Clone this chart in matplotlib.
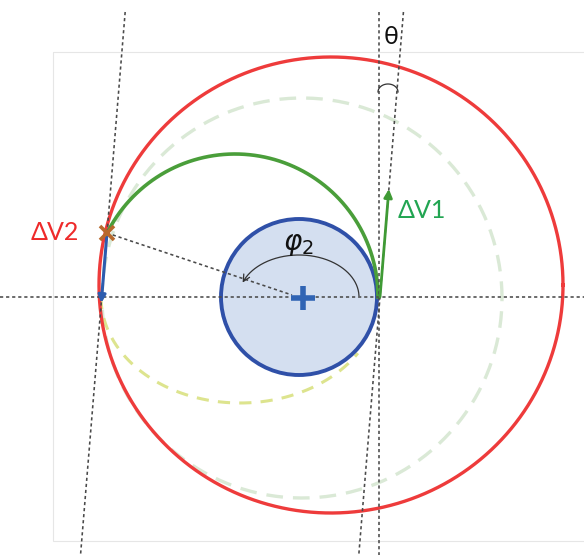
import numpy as np
import matplotlib
matplotlib.use("Agg")
import matplotlib.pyplot as plt
from matplotlib.patches import Circle, Rectangle

# Geometry of the manoeuvre (drawing units, y grows downward)
planet_center = (299, 297)
planet_radius = 78
target_center = (331, 285)
target_radii = (232, 228)
parking_center = (302, 298)
parking_radius = 200
transfer_center = (235, 297)
transfer_radius = 143
transfer_span = (0, 153.5)          # degrees, upper transfer arc (solid)
lower_center = (240, 297)
lower_radii = (139, 106)
lower_span = (180, 328)             # degrees, lower transfer arc (dashed)
burn1_point = (380, 297)
burn2_point = (107, 233)
theta_deg = 4.7                     # tilt of the thrust direction
dv1_length = 108
dv2_length = 70
phi_radii = (60, 42)
phi_span = (2, 160)

labels = {"dv1": "ΔV1", "dv2": "ΔV2", "theta": "θ", "phi": r"$\varphi_2$"}

fig = plt.figure(figsize=(5.84, 5.55), dpi=100)
ax = fig.add_axes([0, 0, 1, 1])
ax.set_xlim(0, 584)
ax.set_ylim(555, 0)
ax.axis("off")

dot = dict(color="#4a4a4a", lw=1.15, linestyle=(0, (2, 1.8)), zorder=6)


def arc(c, rx, ry, a0, a1, n=300):
    t = np.radians(np.linspace(a0, a1, n))
    return c[0] + rx * np.cos(t), c[1] - ry * np.sin(t)


# faint frame
ax.add_patch(Rectangle((53, 52), 560, 489, fill=False, ec="#e6e6e6", lw=0.8, zorder=0))

# parking orbit (faint dashed)
x, y = arc(parking_center, parking_radius, parking_radius, 0, 360)
ax.plot(x, y, color="#dae9d6", lw=2.4, linestyle=(0, (5, 3)), zorder=1)

# target orbit
x, y = arc(target_center, target_radii[0], target_radii[1], 0, 360, 600)
ax.plot(x, y, color="#ee3b3b", lw=2.4, zorder=3)

# lower transfer arc
x, y = arc(lower_center, lower_radii[0], lower_radii[1], *lower_span)
ax.plot(x, y, color="#dde48e", lw=2.2, linestyle=(0, (4, 3)), zorder=2)

# planet
ax.add_patch(Circle(planet_center, planet_radius, fc="#d4dff0", ec="#2f50a8", lw=2.8, zorder=4))

# upper transfer arc
x, y = arc(transfer_center, transfer_radius, transfer_radius, *transfer_span)
ax.plot(x, y, color="#4a9e3a", lw=2.6, zorder=5)

# reference lines
ax.plot([0, 584], [planet_center[1], planet_center[1]], **dot)
ax.plot([burn1_point[0] - 1, burn1_point[0] - 1], [12, 555], **dot)
k = np.tan(np.radians(theta_deg))
for (px, py) in (burn1_point, burn2_point):
    ys = np.array([12, 555])
    ax.plot(px - k * (ys - py), ys, **dot)
ax.plot([burn2_point[0], planet_center[0] - 7], [burn2_point[1], planet_center[1] - 2], **dot)

# burn vectors
tip1 = (burn1_point[0] + k * dv1_length, burn1_point[1] - dv1_length)
ax.annotate("", xy=tip1, xytext=burn1_point,
            arrowprops=dict(arrowstyle="-|>", color="#3f9a35", lw=2.0,
                            mutation_scale=12, shrinkA=0, shrinkB=0), zorder=7)
tip2 = (burn2_point[0] - k * dv2_length, burn2_point[1] + dv2_length)
ax.annotate("", xy=tip2, xytext=burn2_point,
            arrowprops=dict(arrowstyle="-|>", color="#2d5cae", lw=2.2,
                            mutation_scale=11, shrinkA=0, shrinkB=0), zorder=7)
ax.plot(*burn2_point, marker="x", ms=10, mew=2.6, color="#b8692c", zorder=8)

# planet centre mark
pc = (planet_center[0] + 4, planet_center[1] + 1)
ax.plot([pc[0] - 12, pc[0] + 12], [pc[1], pc[1]], color="#3064b4", lw=4, solid_capstyle="butt", zorder=8)
ax.plot([pc[0], pc[0]], [pc[1] - 12, pc[1] + 12], color="#3064b4", lw=4, solid_capstyle="butt", zorder=8)

# phi angle arrow
x, y = arc(planet_center, phi_radii[0], phi_radii[1], *phi_span)
ax.plot(x[:-8], y[:-8], color="#333333", lw=0.9, zorder=7)
ax.annotate("", xy=(x[-1], y[-1]), xytext=(x[-9], y[-9]),
            arrowprops=dict(arrowstyle="->", color="#333333", lw=0.9,
                            mutation_scale=12, shrinkA=0, shrinkB=0), zorder=7)

# theta angle mark
x, y = arc((388, 92), 10, 8, 0, 180, 60)
ax.plot(x, y, color="#333333", lw=0.9, zorder=7)

# labels
font = ["Lato", "DejaVu Sans"]
ax.text(55, 233, labels["dv2"], color="#ee2a2a", fontsize=18, family=font, ha="center", va="center", zorder=9)
ax.text(422, 210, labels["dv1"], color="#22a552", fontsize=18, family=font, ha="center", va="center", zorder=9)
ax.text(391, 37, labels["theta"], color="#111111", fontsize=18, family=font, ha="center", va="center", zorder=9)
ax.text(298, 244, labels["phi"], color="#111111", fontsize=20, ha="center", va="center", zorder=9)

fig.savefig("out.png", dpi=100)
